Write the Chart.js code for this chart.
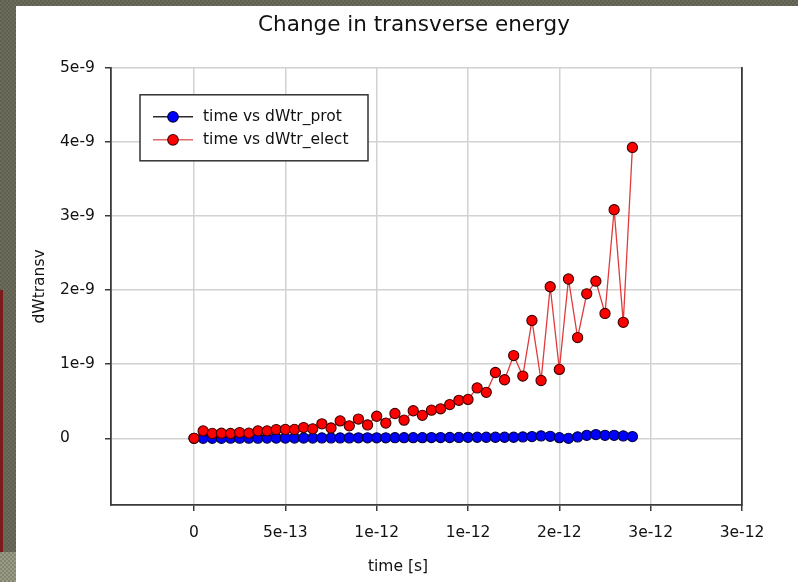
<!DOCTYPE html>
<html>
<head>
<meta charset="utf-8">
<script src="https://cdn.jsdelivr.net/npm/chart.js@4.4.1/dist/chart.umd.min.js"></script>
<style>
  html, body { margin: 0; padding: 0; }
  body {
    width: 798px; height: 582px; overflow: hidden; position: relative;
    background: repeating-conic-gradient(#6b6c5b 0 25%, #5f604f 0 50%) 0 0 / 4px 4px;
  }
  #panel { position: absolute; left: 16px; top: 6px; right: 0; bottom: 0; background: #ffffff; }
  #edge { position: absolute; left: 0; top: 290px; width: 3px; height: 262px; background: #7a1c1c; }
  #foot { position: absolute; left: 0; top: 552px; width: 16px; height: 30px;
    background: repeating-conic-gradient(#9a9b88 0 25%, #84856f 0 50%) 0 0 / 4px 4px; }
  #chart { position: absolute; left: 0; top: 0; }
</style>
</head>
<body>
<div id="panel"></div>
<div id="edge"></div>
<div id="foot"></div>
<canvas id="chart" width="798" height="582"></canvas>
<script>
// Time samples [s]
const timeValues = [
  0, 5e-14, 1e-13, 1.5e-13, 2e-13, 2.5e-13, 3e-13, 3.5e-13, 4e-13, 4.5e-13,
  5e-13, 5.5e-13, 6e-13, 6.5e-13, 7e-13, 7.5e-13, 8e-13, 8.5e-13, 9e-13, 9.5e-13,
  1e-12, 1.05e-12, 1.1e-12, 1.15e-12, 1.2e-12, 1.25e-12, 1.3e-12, 1.35e-12, 1.4e-12, 1.45e-12,
  1.5e-12, 1.55e-12, 1.6e-12, 1.65e-12, 1.7e-12, 1.75e-12, 1.8e-12, 1.85e-12, 1.9e-12, 1.95e-12,
  2e-12, 2.05e-12, 2.1e-12, 2.15e-12, 2.2e-12, 2.25e-12, 2.3e-12, 2.35e-12, 2.4e-12
];

// Change in transverse energy, protons
const dWtrProt = [
  0, 0.001e-9, 0.001e-9, 0.001e-9, 0.002e-9, 0.002e-9, 0.002e-9, 0.002e-9, 0.003e-9, 0.003e-9,
  0.003e-9, 0.004e-9, 0.004e-9, 0.004e-9, 0.005e-9, 0.005e-9, 0.005e-9, 0.005e-9, 0.006e-9, 0.006e-9,
  0.007e-9, 0.007e-9, 0.008e-9, 0.008e-9, 0.009e-9, 0.009e-9, 0.010e-9, 0.010e-9, 0.011e-9, 0.012e-9,
  0.013e-9, 0.014e-9, 0.014e-9, 0.014e-9, 0.014e-9, 0.014e-9, 0.018e-9, 0.023e-9, 0.032e-9, 0.027e-9,
  0.009e-9, 0.0, 0.018e-9, 0.040e-9, 0.050e-9, 0.040e-9, 0.040e-9, 0.032e-9, 0.023e-9
];

// Change in transverse energy, electrons
const dWtrElect = [
  0, 0.100e-9, 0.066e-9, 0.068e-9, 0.065e-9, 0.078e-9, 0.070e-9, 0.100e-9, 0.100e-9, 0.118e-9,
  0.120e-9, 0.120e-9, 0.145e-9, 0.128e-9, 0.195e-9, 0.140e-9, 0.235e-9, 0.168e-9, 0.260e-9, 0.180e-9,
  0.298e-9, 0.205e-9, 0.335e-9, 0.245e-9, 0.372e-9, 0.310e-9, 0.380e-9, 0.398e-9, 0.455e-9, 0.512e-9,
  0.525e-9, 0.680e-9, 0.620e-9, 0.888e-9, 0.790e-9, 1.117e-9, 0.840e-9, 1.590e-9, 0.780e-9, 2.045e-9,
  0.930e-9, 2.150e-9, 1.360e-9, 1.950e-9, 2.120e-9, 1.685e-9, 3.085e-9, 1.565e-9, 3.925e-9
];

const seriesLabels = ['time vs dWtr_prot', 'time vs dWtr_elect'];

// Axis ticks
const xTickValues = [0, 5e-13, 1e-12, 1.5e-12, 2e-12, 2.5e-12, 3e-12];
const xTickLabels = ['0', '5e-13', '1e-12', '1e-12', '2e-12', '3e-12', '3e-12'];
const yTickValues = [0, 1e-9, 2e-9, 3e-9, 4e-9, 5e-9];
const yTickLabels = ['0', '1e-9', '2e-9', '3e-9', '4e-9', '5e-9'];

const chartTitle = 'Change in transverse energy';
const xAxisTitle = 'time [s]';
const yAxisTitle = 'dWtransv';

const FONT = "'DejaVu Sans', 'Liberation Sans', Arial, sans-serif";
const TEXT = '#111111';
const AXIS = '#3a3a3a';
const GRID = '#d2d2d2';

const toPoints = (ys) => timeValues.map((t, i) => ({ x: t, y: ys[i] }));

// Framed legend with line + marker samples, placed inside the plot area
const boxedLegend = {
  id: 'boxedLegend',
  afterDraw(chart) {
    const { ctx, chartArea } = chart;
    const bx = chartArea.left + 29, by = chartArea.top + 27, bw = 228, bh = 66;
    ctx.save();
    ctx.fillStyle = '#ffffff';
    ctx.fillRect(bx, by, bw, bh);
    ctx.strokeStyle = '#333333';
    ctx.lineWidth = 1.5;
    ctx.strokeRect(bx, by, bw, bh);
    ctx.font = '15.5px ' + FONT;
    ctx.textBaseline = 'middle';
    ctx.textAlign = 'left';
    chart.data.datasets.forEach((ds, i) => {
      const y = by + 22 + i * 23;
      ctx.strokeStyle = ds.legendLine;
      ctx.lineWidth = 1.6;
      ctx.beginPath();
      ctx.moveTo(bx + 13, y);
      ctx.lineTo(bx + 53, y);
      ctx.stroke();
      ctx.beginPath();
      ctx.arc(bx + 33, y, 5.3, 0, Math.PI * 2);
      ctx.fillStyle = ds.pointBackgroundColor;
      ctx.fill();
      ctx.lineWidth = 1.1;
      ctx.strokeStyle = ds.pointBorderColor;
      ctx.stroke();
      ctx.fillStyle = TEXT;
      ctx.fillText(ds.label, bx + 63, y);
    });
    ctx.restore();
  }
};

// Axis captions
const axisCaptions = {
  id: 'axisCaptions',
  afterDraw(chart) {
    const { ctx, chartArea } = chart;
    ctx.save();
    ctx.font = '15.5px ' + FONT;
    ctx.fillStyle = TEXT;
    ctx.textAlign = 'center';
    ctx.textBaseline = 'middle';
    ctx.fillText(xAxisTitle, chartArea.left + 287, chartArea.bottom + 62);
    ctx.translate(chartArea.left - 71, (chartArea.top + chartArea.bottom) / 2);
    ctx.rotate(-Math.PI / 2);
    ctx.fillText(yAxisTitle, 0, 0);
    ctx.restore();
  }
};

new Chart(document.getElementById('chart'), {
  type: 'line',
  data: {
    datasets: [
      {
        label: seriesLabels[0],
        data: toPoints(dWtrProt),
        borderColor: '#1c1c1c',
        legendLine: '#2a2a2a',
        borderWidth: 1,
        pointRadius: 5.1,
        pointBorderWidth: 1.1,
        pointBackgroundColor: '#0000ff',
        pointBorderColor: '#000040',
        order: 1
      },
      {
        label: seriesLabels[1],
        data: toPoints(dWtrElect),
        borderColor: '#e03a3a',
        legendLine: '#e06a6a',
        borderWidth: 1.3,
        pointRadius: 5.1,
        pointBorderWidth: 1.1,
        pointBackgroundColor: '#ff0000',
        pointBorderColor: '#400000',
        order: 0
      }
    ]
  },
  options: {
    responsive: false,
    animation: false,
    devicePixelRatio: 1,
    layout: { padding: { left: 60, right: 30, top: 0, bottom: 0 } },
    plugins: {
      legend: { display: false },
      tooltip: { enabled: false },
      title: {
        display: true,
        text: chartTitle,
        color: TEXT,
        font: { family: FONT, size: 21.5, weight: 'normal' },
        padding: { top: 13, bottom: 29 }
      }
    },
    scales: {
      x: {
        type: 'linear',
        min: -4.545e-13,
        max: 3e-12,
        afterBuildTicks: (s) => { s.ticks = xTickValues.map(v => ({ value: v })); },
        afterFit: (s) => { s.height = 77; },
        ticks: {
          callback: (v, i) => xTickLabels[i],
          color: TEXT,
          font: { family: FONT, size: 15.5 },
          padding: 13,
          maxRotation: 0,
          autoSkip: false
        },
        grid: { color: GRID, lineWidth: 1.5, tickColor: AXIS, tickLength: 6, tickWidth: 1.5 },
        border: { display: true, color: AXIS, width: 1.8 }
      },
      y: {
        type: 'linear',
        min: -0.9e-9,
        max: 5e-9,
        afterBuildTicks: (s) => { s.ticks = yTickValues.map(v => ({ value: v })); },
        afterFit: (s) => { s.width = 51; },
        ticks: {
          callback: (v, i) => yTickLabels[i],
          color: TEXT,
          font: { family: FONT, size: 15.5 },
          crossAlign: 'far',
          autoSkip: false
        },
        grid: { color: GRID, lineWidth: 1.5, tickColor: AXIS, tickLength: 6, tickWidth: 1.5 },
        border: { display: true, color: AXIS, width: 1.8 }
      },
      yRight: {
        type: 'linear',
        position: 'right',
        min: -0.9e-9,
        max: 5e-9,
        afterFit: (s) => { s.width = 26; },
        ticks: { display: false },
        grid: { display: false, drawTicks: false },
        border: { display: true, color: AXIS, width: 1.8 }
      }
    }
  },
  plugins: [boxedLegend, axisCaptions]
});
</script>
</body>
</html>
